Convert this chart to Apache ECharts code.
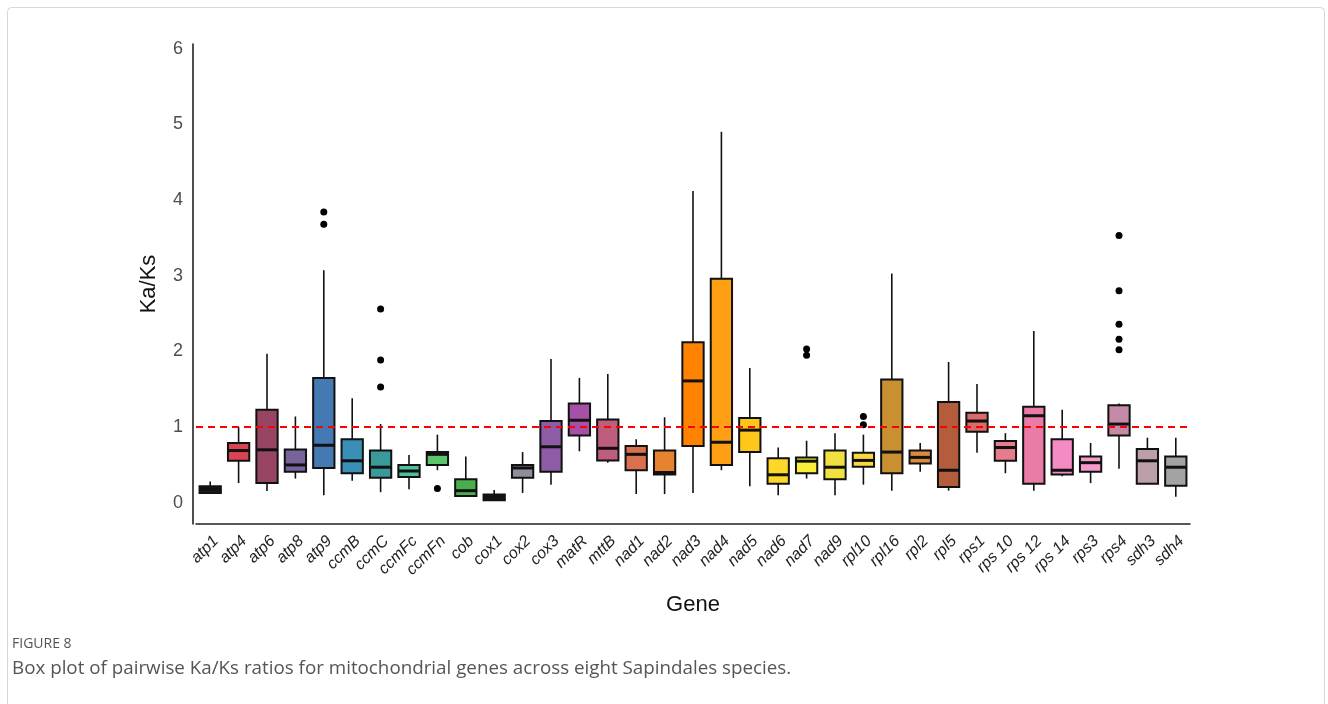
<!DOCTYPE html>
<html>
<head>
<meta charset="utf-8">
<script src="https://cdn.jsdelivr.net/npm/echarts@6/dist/echarts.min.js"></script>
<style>
html,body{margin:0;padding:0;background:#fff;}
#chart{width:1328px;height:704px;}
</style>
</head>
<body>
<div id="chart"></div>
<script>
// ---- Data ----
var genes = ['atp1','atp4','atp6','atp8','atp9','ccmB','ccmC','ccmFc','ccmFn','cob','cox1','cox2','cox3','matR','mttB','nad1','nad2','nad3','nad4','nad5','nad6','nad7','nad9','rpl10','rpl16','rpl2','rpl5','rps1','rps 10','rps 12','rps 14','rps3','rps4','sdh3','sdh4'];
var whiskerLow  = [0.115,0.26,0.155,0.32,0.10,0.29,0.14,0.18,0.43,0.08,0.035,0.13,0.24,0.68,0.53,0.115,0.115,0.13,0.43,0.22,0.10,0.32,0.10,0.24,0.16,0.41,0.16,0.66,0.39,0.16,0.35,0.26,0.45,0.25,0.08];
var quartile1   = [0.13,0.555,0.26,0.41,0.46,0.39,0.33,0.34,0.50,0.09,0.035,0.33,0.41,0.89,0.56,0.43,0.375,0.75,0.50,0.67,0.25,0.39,0.31,0.475,0.39,0.52,0.21,0.94,0.555,0.25,0.375,0.41,0.89,0.25,0.225];
var medians     = [0.18,0.69,0.70,0.50,0.76,0.555,0.47,0.42,0.64,0.16,0.075,0.46,0.74,1.09,0.72,0.64,0.40,1.61,0.80,0.96,0.37,0.55,0.47,0.56,0.67,0.60,0.43,1.08,0.73,1.15,0.43,0.53,1.04,0.555,0.47];
var quartile3   = [0.22,0.79,1.23,0.705,1.65,0.84,0.69,0.50,0.67,0.31,0.11,0.50,1.08,1.31,1.10,0.75,0.69,2.12,2.96,1.12,0.59,0.60,0.69,0.66,1.63,0.69,1.33,1.19,0.815,1.27,0.84,0.61,1.29,0.71,0.61];
var whiskerHigh = [0.28,1.00,1.97,1.14,3.07,1.38,1.04,0.63,0.90,0.61,0.17,0.67,1.90,1.65,1.70,0.84,1.13,4.12,4.90,1.78,0.73,0.82,0.92,0.90,3.03,0.79,1.86,1.57,0.92,2.27,1.23,0.79,1.31,0.86,0.86];
var outlierGenes  = ['atp9','atp9','ccmC','ccmC','ccmC','ccmFn','nad7','nad7','rpl10','rpl10','rps4','rps4','rps4','rps4','rps4'];
var outlierValues = [3.84,3.68,2.56,1.885,1.53,0.19,2.03,1.95,1.14,1.03,3.53,2.80,2.36,2.16,2.02];
var yTicks = [0,1,2,3,4,5,6];
var refValue = 1;

// ---- Styles ----
var boxColors = ['#1c1c1c','#d94452','#974563','#76649a','#4479b4','#3a8fb7','#3a9a9a','#4dbf9f','#5cc46b','#4aae4f','#1c1c1c','#8f8f99','#8e5ca6','#a650a8','#bf5d7c','#d9704f','#e6832e','#ff8200','#ffa014','#ffc61a','#ffd726','#f9ef3b','#f0e040','#f9d940','#c89030','#da8a3c','#b35d3c','#db6a6a','#e77d8c','#e97ba6','#f58ac4','#f59ac9','#c48aa8','#bd9faa','#a3a3a3'];
var FONT = 'Liberation Sans, Arial, sans-serif';

var boxData = genes.map(function(g, i){
  return [i, whiskerLow[i], quartile1[i], medians[i], quartile3[i], whiskerHigh[i]];
});
var outlierData = outlierGenes.map(function(g, i){ return [g, outlierValues[i]]; });

function renderBox(params, api){
  var i = api.value(0);
  var pLow = api.coord([i, api.value(1)]);
  var pQ1 = api.coord([i, api.value(2)]);
  var pMed = api.coord([i, api.value(3)]);
  var pQ3 = api.coord([i, api.value(4)]);
  var pHigh = api.coord([i, api.value(5)]);
  var band = api.size([1, 0])[0];
  var w = band * 0.75;
  var x = pMed[0];
  var ink = '#111';
  return {type:'group', children:[
    {type:'line', shape:{x1:x,y1:pHigh[1],x2:x,y2:pQ3[1]}, style:{stroke:ink,lineWidth:1.6}},
    {type:'line', shape:{x1:x,y1:pQ1[1],x2:x,y2:pLow[1]}, style:{stroke:ink,lineWidth:1.6}},
    {type:'rect', shape:{x:x-w/2,y:pQ3[1],width:w,height:pQ1[1]-pQ3[1]}, style:{fill:boxColors[params.dataIndex], stroke:ink, lineWidth:2}},
    {type:'line', shape:{x1:x-w/2,y1:pMed[1],x2:x+w/2,y2:pMed[1]}, style:{stroke:ink,lineWidth:3}}
  ]};
}

var chart = echarts.init(document.getElementById('chart'), null, {renderer:'canvas'});
chart.setOption({
  backgroundColor:'#ffffff',
  animation:false,
  textStyle:{fontFamily:FONT},
  grid:{left:196, right:138, top:44, bottom:180, containLabel:false},
  xAxis:{
    type:'category',
    data:genes,
    boundaryGap:true,
    name:'Gene',
    nameLocation:'middle',
    nameGap:70,
    nameTextStyle:{fontSize:22, color:'#111', fontFamily:FONT},
    axisLine:{show:true, onZero:false, lineStyle:{color:'#222', width:1.6}},
    axisTick:{show:false},
    axisLabel:{interval:0, rotate:45, verticalAlign:'top', fontSize:16, fontStyle:'italic', color:'#222', margin:9, fontFamily:FONT}
  },
  yAxis:{
    type:'value',
    min:-0.28,
    max:6.06,
    offset:3,
    name:'Ka/Ks',
    nameLocation:'middle',
    nameGap:33,
    nameRotate:90,
    nameTextStyle:{fontSize:22, color:'#111', fontFamily:FONT},
    splitLine:{show:false},
    axisLine:{show:true, onZero:false, lineStyle:{color:'#222', width:1.6}},
    axisTick:{show:false},
    axisLabel:{customValues:yTicks, fontSize:18, color:'#4d4d4d', margin:10, fontFamily:FONT}
  },
  series:[
    {
      type:'custom',
      renderItem:renderBox,
      data:boxData,
      encode:{x:0, y:[1,2,3,4,5]},
      z:2
    },
    {
      type:'scatter',
      data:outlierData,
      symbol:'circle',
      symbolSize:7,
      itemStyle:{color:'#000', opacity:1},
      z:3,
      markLine:{
        silent:true,
        symbol:'none',
        label:{show:false},
        lineStyle:{color:'#ff0000', type:[7,5], width:1.8, opacity:1},
        data:[{yAxis:refValue}],
        z:5
      }
    }
  ],
  graphic:[
    {type:'rect', left:5, top:5, shape:{width:1317, height:720, r:4}, style:{fill:'none', stroke:'#d6d6d6', lineWidth:1}, silent:true},
    {type:'text', left:12, top:637, style:{text:'FIGURE 8', font:'14px "Open Sans", sans-serif', fill:'#555'}},
    {type:'text', left:12, top:659, style:{text:'Box plot of pairwise Ka/Ks ratios for mitochondrial genes across eight Sapindales species.', font:'18.8px "Open Sans", sans-serif', fill:'#555'}}
  ]
});
</script>
</body>
</html>
